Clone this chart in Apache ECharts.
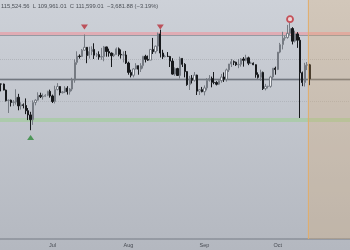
<!DOCTYPE html>
<html><head><meta charset="utf-8">
<script src="https://cdn.jsdelivr.net/npm/echarts@6/dist/echarts.min.js"></script>
<style>html,body{margin:0;padding:0;}#c{width:350px;height:250px;}</style>
</head><body><div id="c"></div>
<script>
// Daily candles, Jun 10 .. Oct 14 (prices in thousands USD)
const opens = [110.26,110.25,108.68,105.93,106.05,105.45,105.55,106.80,104.55,104.85,104.65,103.30,102.20,100.95,105.45,106.05,107.30,106.95,107.05,107.30,108.35,
107.15,105.70,108.85,109.60,108.00,108.20,109.20,108.25,108.95,111.30,115.90,117.55,117.45,119.10,119.85,117.70,118.75,119.30,117.80,117.95,117.30,117.45,119.95,118.75,118.35,117.65,117.95,119.45,118.00,117.85,117.85,
115.75,113.30,112.55,114.20,115.05,114.15,115.05,117.50,116.70,116.50,119.30,118.70,120.15,123.35,118.35,117.40,117.50,117.45,116.25,112.85,114.30,112.50,116.95,115.40,113.50,110.10,111.80,111.25,112.60,108.40,108.80,
108.25,109.25,111.25,111.70,110.70,110.65,110.20,111.15,112.10,111.50,113.95,115.50,116.10,115.95,115.30,115.40,116.80,116.45,117.10,115.70,115.70,115.30,112.70,112.00,113.30,109.05,109.65,109.65,112.10,114.40,
114.05,118.60,120.55,122.25,122.40,123.50,124.75,121.45,123.35,121.70,113.20,110.65,115.20,115.28];
const closes = [110.25,108.68,105.93,106.05,105.45,105.55,106.80,104.55,104.85,104.65,103.30,102.20,100.95,105.45,106.05,107.30,106.95,107.05,107.30,108.35,107.15,
105.70,108.85,109.60,108.00,108.20,109.20,108.25,108.95,111.30,115.90,117.55,117.45,119.10,119.85,117.70,118.75,119.30,117.80,117.95,117.30,117.45,119.95,118.75,118.35,117.65,117.95,119.45,118.00,117.85,117.85,115.75,
113.30,112.55,114.20,115.05,114.15,115.05,117.50,116.70,116.50,119.30,118.70,120.15,123.35,118.35,117.40,117.50,117.45,116.25,112.85,114.30,112.50,116.95,115.40,113.50,110.10,111.80,111.25,112.60,108.40,108.80,108.25,
109.25,111.25,111.70,110.70,110.65,110.20,111.15,112.10,111.50,113.95,115.50,116.10,115.95,115.30,115.40,116.80,116.45,117.10,115.70,115.70,115.30,112.70,112.00,113.30,109.05,109.65,109.65,112.10,114.40,114.05,
118.60,120.55,122.25,122.40,123.50,124.75,121.45,123.35,121.70,113.20,110.65,115.20,115.28,111.60];
const lows = [108.35,108.60,105.70,102.70,104.40,104.50,104.90,103.40,103.60,103.90,102.40,100.85,98.20,99.60,104.70,105.90,106.60,106.20,106.90,107.10,106.70,
105.30,105.20,108.60,107.30,107.80,107.90,107.50,107.50,108.40,110.60,115.30,116.90,117.30,118.90,115.70,116.90,117.80,116.80,117.30,116.60,116.60,116.20,117.40,117.40,114.70,117.30,117.90,117.50,116.90,115.90,115.50,
112.70,112.00,112.00,114.10,112.70,113.40,114.30,115.90,116.30,116.50,118.10,118.20,118.90,117.20,116.80,117.20,117.30,114.70,112.70,112.40,112.40,111.70,114.70,112.00,109.80,108.70,110.40,110.90,107.40,107.40,108.10,
107.30,108.60,110.90,109.40,110.20,109.90,110.00,110.60,110.80,110.90,113.40,114.70,115.20,115.00,114.40,114.80,114.80,116.20,115.20,115.50,115.20,111.90,111.70,111.10,108.70,108.60,109.10,109.30,111.60,112.70,
113.90,118.30,119.30,121.60,122.10,123.10,120.60,121.10,119.70,101.40,109.70,109.60,113.90,109.96];
const highs = [110.40,110.38,108.80,106.20,106.20,106.10,108.90,107.70,105.50,105.20,106.50,104.00,103.00,106.00,106.30,108.10,108.00,107.80,107.60,108.50,108.80,
107.50,109.80,110.50,109.70,108.40,109.70,109.70,109.20,111.90,116.70,118.80,118.00,119.40,123.20,119.90,120.00,120.10,120.90,118.40,118.80,119.70,120.20,120.00,119.50,118.50,118.30,119.80,119.80,119.30,118.80,118.90,
116.10,114.00,114.40,115.70,115.10,115.70,117.60,117.90,117.70,119.30,122.30,120.30,123.70,124.45,119.20,117.90,118.60,117.60,117.00,114.60,114.50,117.40,117.00,115.70,113.60,112.40,112.60,113.40,112.70,108.90,109.50,
109.90,111.80,112.60,112.20,113.40,111.00,111.30,112.90,113.30,114.30,115.50,116.80,116.40,116.10,116.80,117.00,117.30,117.90,117.40,116.10,115.90,115.40,113.30,114.00,113.50,110.30,109.80,112.40,114.40,114.80,
118.60,121.00,123.90,122.90,125.70,126.20,125.10,124.20,123.80,122.50,113.50,115.80,116.00,115.52];

// Annotations (thousands USD)
const resistanceLevel = 123.3;
const resistanceEdge = 122.95;
const lastPrice = 111.6;
const supportLevel = 101.0;
const gridLevels = [116.8, 105.7];
const sellMarks = [['Jul 14', 125.15], ['Aug 14', 125.15]];
const buyMarks = [['Jun 22', 96.3]];
const peakMarks = [['Oct 6', 127.2]];
const shadeStart = 'Oct 14';
const headerText = '115,524.56  L 109,961.01  C 111,599.01  \u22123,681.88 (\u22123.19%)';

// Calendar categories Jun 10 .. Oct 30
const monthNames = ['Jun', 'Jul', 'Aug', 'Sep', 'Oct'];
const monthFirstDay = [10, 1, 1, 1, 1];
const monthLastDay = [30, 31, 31, 30, 30];
const categories = [];
monthNames.forEach((m, k) => {
  for (let d = monthFirstDay[k]; d <= monthLastDay[k]; d++) categories.push(m + ' ' + d);
});

const candles = opens.map((o, i) => [o, closes[i], lows[i], highs[i]]);

const chart = echarts.init(document.getElementById('c'), null, {renderer: 'canvas'});
const hline = (v, color, width, type) => ({
  yAxis: v, lineStyle: {color: color, width: width, type: type || 'solid'}
});

chart.setOption({
  animation: false,
  backgroundColor: {type: 'linear', x: 0, y: 0, x2: 0, y2: 1,
    colorStops: [{offset: 0, color: '#cdd1d8'}, {offset: 1, color: '#b4b8c0'}]},
  title: {text: headerText, left: 1, top: 3, padding: 0,
    textStyle: {fontSize: 5.8, fontWeight: 'normal', color: '#4d5158', fontFamily: 'Liberation Sans'}},
  grid: {left: 0, right: 0, top: 0, bottom: 11},
  xAxis: {
    type: 'category', data: categories, boundaryGap: true,
    axisLine: {show: true, lineStyle: {color: '#8b9098', width: 1.5}},
    axisTick: {show: false},
    splitLine: {show: false},
    axisLabel: {
      interval: (idx, val) => / 1$/.test(val),
      formatter: (val) => val.split(' ')[0],
      fontSize: 5.5, color: '#464a51', margin: 3, fontFamily: 'Liberation Sans'
    }
  },
  yAxis: {type: 'value', min: 69.8, max: 132.2, show: false, splitLine: {show: false}},
  series: [
    {
      type: 'candlestick', data: candles, barWidth: 1.8, z: 3,
      itemStyle: {color: '#f0f2f5', color0: '#17191c', borderColor: '#767b83', borderColor0: '#17191c', borderWidth: 1},
      markLine: {
        silent: true, symbol: ['none', 'none'], label: {show: false}, z: 1,
        data: [
          hline(gridLevels[0], '#b1b5bc', 1, 'dotted'),
          hline(gridLevels[1], '#b1b5bc', 1, 'dotted'),
          hline(resistanceLevel, 'rgba(226,168,176,0.9)', 4),
          hline(resistanceEdge, '#969aa2', 1),
          hline(lastPrice, 'rgba(140,145,155,0.5)', 3),
          hline(lastPrice, '#72777f', 1),
          hline(supportLevel, 'rgba(170,202,168,0.9)', 4)
        ]
      }
    },
    {
      type: 'scatter', data: sellMarks, symbol: 'triangle', symbolRotate: 180, symbolSize: [7, 5],
      itemStyle: {color: '#b8323c'}, z: 5
    },
    {
      type: 'scatter', data: buyMarks, symbol: 'triangle', symbolSize: [7, 5],
      itemStyle: {color: '#2f8a3b'}, z: 5
    },
    {
      type: 'scatter', data: peakMarks, symbol: 'circle', symbolSize: 6,
      itemStyle: {color: '#f1d6d6', borderColor: '#bf2f38', borderWidth: 1.8}, z: 5
    },
    {
      type: 'custom', data: [[shadeStart, 0]], z: 6, silent: true,
      renderItem: (params, api) => {
        const cs = params.coordSys;
        const x0 = api.coord([api.value(0), 0])[0] - api.size([1, 0])[0] / 2;
        return {type: 'group', children: [
          {type: 'rect', shape: {x: x0, y: cs.y, width: cs.x + cs.width - x0, height: cs.height},
           style: {fill: 'rgba(226,170,100,0.26)'}},
          {type: 'line', shape: {x1: x0, y1: cs.y, x2: x0, y2: cs.y + cs.height},
           style: {stroke: '#e2ad68', lineWidth: 1}}
        ]};
      }
    }
  ]
});
</script>
</body></html>
